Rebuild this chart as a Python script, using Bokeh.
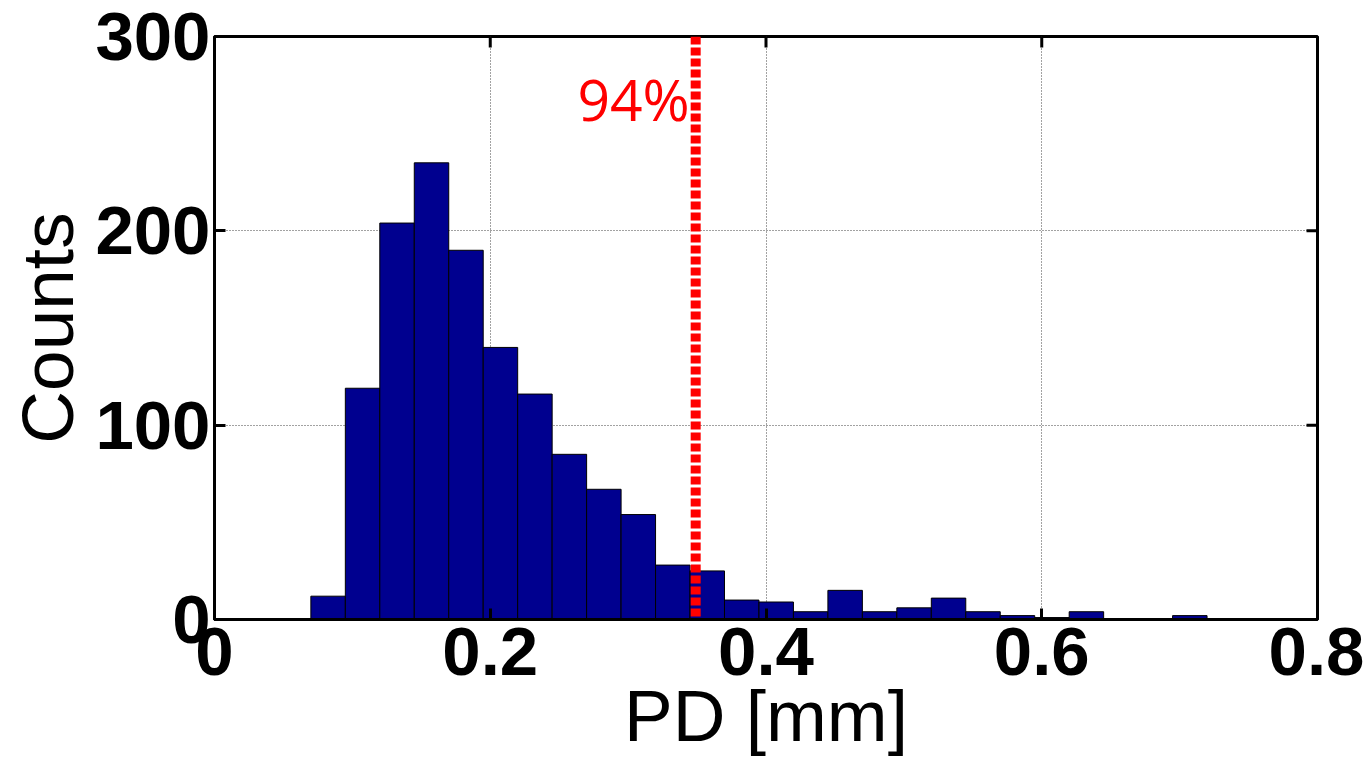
from bokeh.plotting import figure
from bokeh.models import ColumnDataSource, FixedTicker, Range1d, Span
from bokeh.core.properties import value
from bokeh.embed import file_html
from bokeh.resources import INLINE

# ---- data ----
bin_start = 0.0449
bin_width = 0.025
counts = [0, 12, 119, 204, 235, 190, 140, 116, 85, 67, 54, 28, 25, 10, 9,
          4, 15, 4, 6, 11, 4, 2, 1, 4, 0, 0, 2, 0, 0, 0]
threshold_x = 0.349
threshold_label = "94%"
label_y = 268
x_ticks = [0, 0.2, 0.4, 0.6, 0.8]
x_tick_labels = ["0", "0.2", "0.4", "0.6", "0.8"]
y_ticks = [0, 100, 200, 300]
y_tick_labels = ["0", "100", "200", "300"]
x_label = "PD [mm]"
y_label = "Counts"
x_min, x_max = 0, 0.8
y_min, y_max = 0, 300

lefts = [bin_start + i * bin_width for i in range(len(counts))]
rights = [l + bin_width for l in lefts]
src = ColumnDataSource(dict(left=lefts, right=rights, top=counts, bottom=[0] * len(counts)))

W, H = 1364, 759
p = figure(width=W, height=H, output_backend="svg", toolbar_location=None,
           x_range=Range1d(x_min, x_max), y_range=Range1d(y_min, y_max),
           min_border_left=214, min_border_right=W - 1317, min_border_top=36,
           min_border_bottom=H - 619)
p.background_fill_color = "white"
p.border_fill_color = "white"
p.outline_line_color = "black"
p.outline_line_width = 3

p.quad(left="left", right="right", top="top", bottom="bottom", source=src,
       fill_color="#00008F", line_color="black", line_width=1)

p.add_layout(Span(location=threshold_x, dimension="height", line_color="#FF0000",
                  line_width=10, line_dash="8 3"))
p.text(x=[threshold_x], y=[label_y], text=[threshold_label], text_color="#FF0000",
       text_font=value("Open Sans"), text_font_size="57px", text_align="right",
       text_baseline="middle", x_offset=-6)

# box ticks on the top and right edges (MATLAB style, inward)
p.ray(x=x_ticks, y=[y_max] * len(x_ticks), length=11, length_units="screen",
      angle=-90, angle_units="deg", line_color="black", line_width=3)
p.ray(x=[x_max] * len(y_ticks), y=y_ticks, length=11, length_units="screen",
      angle=180, angle_units="deg", line_color="black", line_width=3)

tick_font = "Liberation Sans"
for ax, ticks, labels in ((p.xaxis[0], x_ticks, x_tick_labels), (p.yaxis[0], y_ticks, y_tick_labels)):
    ax.ticker = FixedTicker(ticks=ticks)
    ax.major_label_overrides = {t: l for t, l in zip(ticks, labels)}
    ax.major_label_text_font = tick_font
    ax.major_label_text_font_style = "bold"
    ax.major_label_text_font_size = "69px"
    ax.major_label_text_color = "black"
    ax.major_tick_in = 11
    ax.major_tick_out = 0
    ax.minor_tick_line_color = None
    ax.axis_line_color = "black"
    ax.axis_line_width = 3
    ax.major_tick_line_width = 3
    ax.axis_label_text_font = tick_font
    ax.axis_label_text_font_style = "normal"
    ax.axis_label_text_font_size = "73px"
    ax.axis_label_text_color = "black"

p.xaxis.axis_label = x_label
p.yaxis.axis_label = y_label
p.xaxis.major_label_standoff = 8
p.xaxis.axis_label_standoff = -3
p.yaxis.major_label_standoff = 4
p.yaxis.axis_label_standoff = 4

p.xgrid.ticker = FixedTicker(ticks=x_ticks)
p.ygrid.ticker = FixedTicker(ticks=y_ticks)
for g in (p.xgrid[0], p.ygrid[0]):
    g.grid_line_color = "#444444"
    g.grid_line_dash = "1 2"
    g.grid_line_width = 1

open("out.html", "w").write(file_html(p, INLINE))
